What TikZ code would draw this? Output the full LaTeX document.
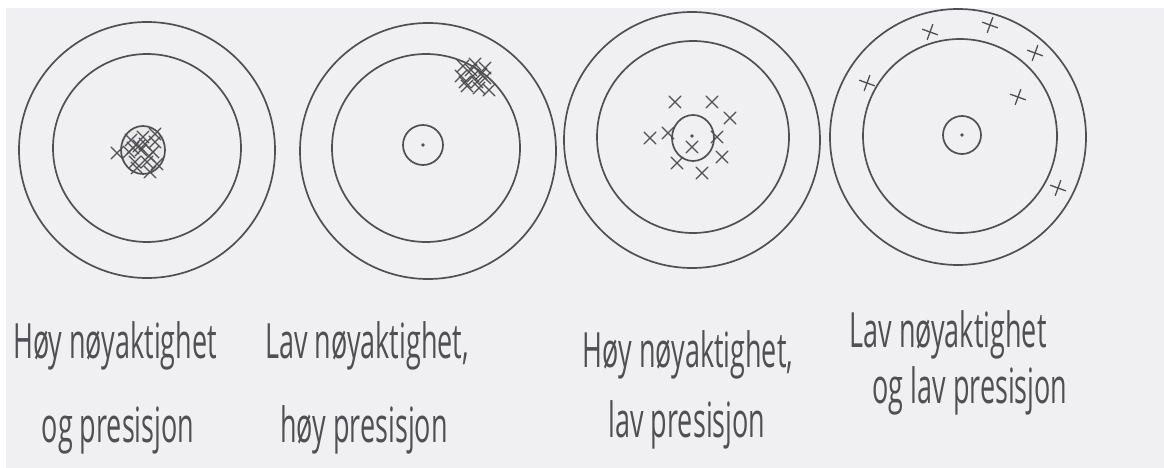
\documentclass[tikz,border=0pt]{standalone}
\usepackage{fontspec}
\usepackage{graphicx}
\setmainfont{Open Sans}
\definecolor{paper}{RGB}{240,239,241}
\definecolor{pencil}{RGB}{80,80,84}
\newcommand\xcr[2]{\draw[crs] (#1-6,#2-6)--(#1+6,#2+6) (#1-6,#2+6)--(#1+6,#2-6);}
\newcommand\pcr[2]{\draw[crs,rotate around={-20:(#1,#2)}] (#1-8,#2)--(#1+8,#2) (#1,#2-8)--(#1,#2+8);}
\begin{document}
\begin{tikzpicture}[x=1pt,y=-1pt,
  pen/.style={draw=pencil,line width=1.7pt},
  crs/.style={draw=pencil,line width=1.3pt,line cap=round},
  lbl/.style={anchor=base,inner sep=0pt,text=pencil,font=\fontsize{27}{30}\selectfont}]
\useasboundingbox (0,0) rectangle (1164,468);
\fill[white] (0,0) rectangle (1164,468);
\fill[paper] (6,8) rectangle (1164,468);
% target 1
\draw[pen] (147,150) circle[radius=128pt];
\draw[pen] (147,148) circle[radius=94pt];
\draw[pen,fill=pencil!12] (143,150) ellipse[x radius=22pt,y radius=24pt];
\foreach \dx/\dy in {-12/-10,0/-13,12/-8,-14/2,-2/0,10/2,-8/12,4/12,14/14,-26/3,7/22,-4/-4,6/6,-10/-2,2/-6,12/-16,-6/18}{\xcr{143+\dx}{150+\dy}}
% target 2
\draw[pen] (428,151) circle[radius=128pt];
\draw[pen] (426,148) circle[radius=94pt];
\draw[pen] (423,145) circle[radius=20pt];
\fill[pencil] (423,145) circle[radius=1.8pt];
\foreach \dx/\dy in {-12/-12,0/-14,10/-10,-14/-2,-2/-2,10/0,-8/8,4/10,14/12,-4/-8,6/-4,-10/4,2/4}{\xcr{475+\dx}{78+\dy}}
% target 3
\draw[pen] (692,140) circle[radius=128pt];
\draw[pen] (693,137) circle[radius=96pt];
\draw[pen] (693,138) ellipse[x radius=21pt,y radius=23pt];
\fill[pencil] (692,136) circle[radius=1.8pt];
\foreach \px/\py in {675/102,712/102,730/118,650/138,668/133,692/147,717/137,677/163,702/173,722/157}{\xcr{\px}{\py}}
% target 4
\draw[pen] (958,137) circle[radius=128pt];
\draw[pen] (960,136) circle[radius=97pt];
\draw[pen] (962,135) circle[radius=19pt];
\fill[pencil] (962,135) circle[radius=1.8pt];
\foreach \px/\py in {930/32,990/25,1035/53,867/83,1018/97,1058/188}{\pcr{\px}{\py}}
% labels
\node[lbl] (l1a) at (115,358) {\scalebox{1}[1.8]{Høy nøyaktighet}};
\node[lbl] (l1b) at (118,442) {\scalebox{1}[1.8]{og presisjon}};
\node[lbl] (l2a) at (367,358) {\scalebox{1}[1.8]{Lav nøyaktighet,}};
\node[lbl] (l2b) at (364,442) {\scalebox{1}[1.8]{høy presisjon}};
\node[lbl] (l3a) at (688,367) {\scalebox{1}[1.8]{Høy nøyaktighet,}};
\node[lbl] (l3b) at (687,437) {\scalebox{1}[1.8]{lav presisjon}};
\node[lbl] (l4a) at (948,347) {\scalebox{1}[1.8]{Lav nøyaktighet}};
\node[lbl] (l4b) at (970,403) {\scalebox{1}[1.8]{og lav presisjon}};
\end{tikzpicture}
\end{document}
